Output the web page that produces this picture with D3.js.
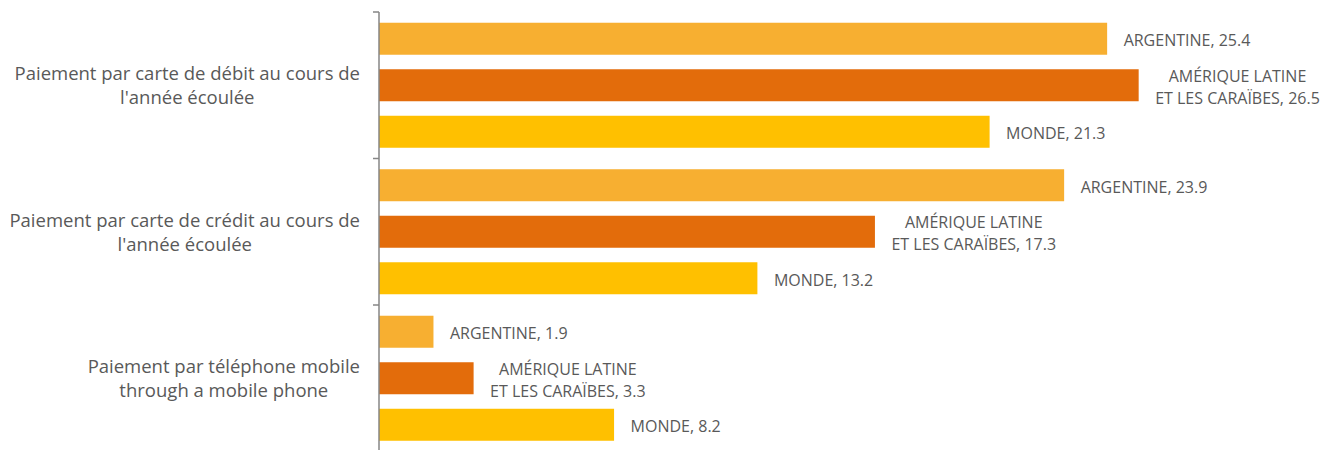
<!DOCTYPE html>
<html><head><meta charset="utf-8">
<script src="https://cdn.jsdelivr.net/npm/d3@7"></script>
<style>html,body{margin:0;padding:0;background:#fff;}svg{display:block;}</style>
</head><body>
<svg id="chart" width="1335" height="450"></svg>
<script>
const categories = [
  ["Paiement par carte de débit au cours de", "l'année écoulée"],
  ["Paiement par carte de crédit au cours de", "l'année écoulée"],
  ["Paiement par téléphone mobile", "through a mobile phone"]
];
const seriesNames = [
  ["ARGENTINE"],
  ["AMÉRIQUE LATINE", "ET LES CARAÏBES"],
  ["MONDE"]
];
const argentina = [25.4, 23.9, 1.9];
const latam = [26.5, 17.3, 3.3];
const monde = [21.3, 13.2, 8.2];
const seriesValues = [argentina, latam, monde];
const colors = ["#F7AF31", "#E36C0B", "#FFC000"];

const svg = d3.select("#chart");
const x = d3.scaleLinear().domain([0, 30]).range([379, 1239]);
const y0 = d3.scaleBand().domain(d3.range(categories.length)).range([12, 451.5]).padding(0);
const y1 = d3.scaleBand().domain(d3.range(seriesNames.length)).range([0, y0.bandwidth()])
  .paddingInner(0.312).paddingOuter(0.231);

const font = "'Open Sans', sans-serif";
const textColor = "#595959";

// bars and labels
categories.forEach((cat, ci) => {
  const g = svg.append("g").attr("transform", `translate(0,${y0(ci)})`);
  seriesValues.forEach((vals, si) => {
    const v = vals[ci];
    const by = y1(si), bh = y1.bandwidth();
    g.append("rect").attr("x", x(0)).attr("y", by)
      .attr("width", x(v) - x(0)).attr("height", bh).attr("fill", colors[si]);
    const lines = seriesNames[si].slice();
    lines[lines.length - 1] += ", " + v.toFixed(1);
    const t = g.append("text").attr("font-family", font).attr("font-size", 16)
      .attr("fill", textColor).attr("text-anchor", "middle");
    const cy = by + bh / 2;
    const lh = 22;
    lines.forEach((ln, li) => {
      t.append("tspan").attr("y", cy + 7.5 + (li - (lines.length - 1) / 2) * lh).text(ln);
    });
    let maxW = 0;
    t.selectAll("tspan").each(function(){ maxW = Math.max(maxW, this.getComputedTextLength()); });
    t.selectAll("tspan").attr("x", x(v) + 16.5 + maxW / 2);
  });
});

// axis
const axisG = svg.append("g");
axisG.append("line").attr("x1", x(0)).attr("x2", x(0)).attr("y1", 12).attr("y2", 451.5)
  .attr("stroke", "#868686").attr("stroke-width", 1.5);
const bounds = d3.range(categories.length + 1).map(i => i < categories.length ? y0(i) : y0(i - 1) + y0.bandwidth());
bounds.forEach(b => {
  axisG.append("line").attr("x1", x(0) - 6).attr("x2", x(0)).attr("y1", b).attr("y2", b)
    .attr("stroke", "#868686").attr("stroke-width", 1.5);
});

// category labels
categories.forEach((cat, ci) => {
  const cy = y0(ci) + y0.bandwidth() / 2;
  const t = svg.append("text").attr("font-family", font).attr("font-size", 18.5)
    .attr("fill", textColor).attr("text-anchor", "middle");
  const lh = 24;
  cat.forEach((ln, li) => {
    t.append("tspan").attr("y", cy + 7 + (li - (cat.length - 1) / 2) * lh).text(ln);
  });
  let maxW = 0;
  t.selectAll("tspan").each(function(){ maxW = Math.max(maxW, this.getComputedTextLength()); });
  t.selectAll("tspan").attr("x", 360 - maxW / 2);
});
</script>
</body></html>
